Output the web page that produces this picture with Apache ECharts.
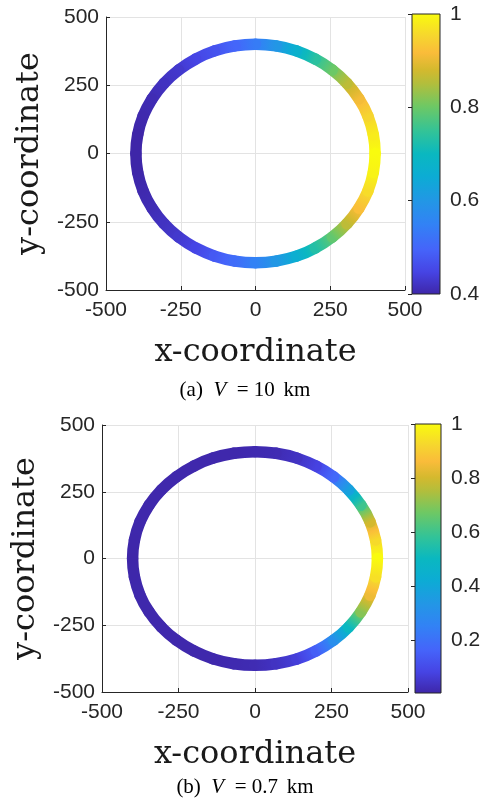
<!DOCTYPE html>
<html>
<head>
<meta charset="utf-8">
<script src="https://cdn.jsdelivr.net/npm/echarts@6.0.0/dist/echarts.min.js"></script>
<style>
html,body{margin:0;padding:0;background:#fff;}
#chart{width:490px;height:806px;}
</style>
</head>
<body>
<div id="chart"></div>
<script>
// Trajectory points (every 10 degrees around the ring)
const xCoord = [400,394,376,346,306,257,200,137,69,0,-69,-137,-200,-257,-306,-346,-376,-394,-400,-394,-376,-346,-306,-257,-200,-137,-69,0,69,137,200,257,306,346,376,394];
const yCoord = [0,69,137,200,257,306,346,376,394,400,394,376,346,306,257,200,137,69,0,-69,-137,-200,-257,-306,-346,-376,-394,-400,-394,-376,-346,-306,-257,-200,-137,-69];
// Colour value along the ring, (a) V = 10 km
const valuesA = [1.00,0.98,0.95,0.91,0.86,0.80,0.74,0.67,0.60,0.54,0.50,0.47,0.45,0.43,0.42,0.41,0.405,0.40,0.40,
                 0.40,0.405,0.41,0.42,0.43,0.45,0.48,0.51,0.55,0.60,0.66,0.73,0.79,0.86,0.92,0.96,0.99];
// Colour value along the ring, (b) V = 0.7 km
const valuesB = [1.00,0.93,0.80,0.60,0.38,0.18,0.08,0.04,0.02,0.015,0.01,0.01,0.01,0.01,0.01,0.01,0.01,0.008,0.005,
                 0.008,0.01,0.01,0.01,0.01,0.01,0.01,0.015,0.02,0.04,0.07,0.15,0.30,0.50,0.70,0.84,0.94];
// Axis ticks
const axisTicks = [-500,-250,0,250,500];
const cbarTicksA = [0.4,0.6,0.8,1];
const cbarTicksB = [0.2,0.4,0.6,0.8,1];
const captionA = '(a)\u2002{it|V}\u2002=\u200510\u2006 km';
const captionB = '(b)\u2002{it|V}\u2002=\u20050.7\u2006 km';

// parula-like colormap (styling)
const PARULA = [
  [0.00,[62,38,168]],[0.08,[70,68,228]],[0.16,[69,100,250]],[0.25,[50,130,245]],
  [0.33,[35,150,230]],[0.42,[12,172,212]],[0.50,[10,184,192]],[0.58,[50,195,152]],
  [0.67,[110,200,100]],[0.75,[178,190,60]],[0.80,[212,185,46]],[0.86,[250,188,58]],
  [0.92,[246,214,46]],[1.00,[249,251,14]]
];
function cmap(t){
  t = Math.max(0, Math.min(1, t));
  for (let i=1;i<PARULA.length;i++){
    if (t <= PARULA[i][0]){
      const a = PARULA[i-1], b = PARULA[i];
      const f = (t - a[0])/(b[0]-a[0]);
      const c = a[1].map((v,k)=>Math.round(v + (b[1][k]-v)*f));
      return 'rgb('+c.join(',')+')';
    }
  }
  return 'rgb(249,251,14)';
}

function segData(vals){
  const n = xCoord.length, out = [];
  for (let i=0;i<n;i++){
    const j = (i+1)%n;
    out.push([xCoord[i], yCoord[i], xCoord[j], yCoord[j], vals[i], vals[j]]);
  }
  return out;
}

const AX = '#262626';
const TICKFONT = {fontFamily:'Liberation Sans', fontSize:21, color:AX};

function ringSeries(vals, gi, lw){
  const vmin = Math.min.apply(null, vals), vmax = Math.max.apply(null, vals);
  return {
    type:'custom', xAxisIndex:gi, yAxisIndex:gi,
    data: segData(vals),
    encode:{x:[0,2], y:[1,3]},
    renderItem: function(params, api){
      const ax = api.value(0), ay = api.value(1), bx = api.value(2), by = api.value(3);
      // smooth arc between consecutive points (tangent-intersection control point)
      const mx = (ax+bx)/2, my = (ay+by)/2;
      const k = (ax*ax+ay*ay)/(mx*mx+my*my);
      const p1 = api.coord([ax, ay]);
      const p2 = api.coord([bx, by]);
      const cp = api.coord([mx*k, my*k]);
      const v1 = api.value(4), v2 = api.value(5);
      const stops = [];
      for (let s=0;s<=4;s++){
        const f = s/4, v = v1 + (v2-v1)*f;
        stops.push({offset:f, color:cmap((v-vmin)/(vmax-vmin))});
      }
      return {
        type:'bezierCurve',
        shape:{x1:p1[0], y1:p1[1], x2:p2[0], y2:p2[1], cpx1:cp[0], cpy1:cp[1]},
        style:{fill:null, stroke:new echarts.graphic.LinearGradient(p1[0],p1[1],p2[0],p2[1],stops,true), lineWidth:lw, lineCap:'round'}
      };
    }
  };
}

function cbarSeries(vals, gi){
  const vmin = Math.min.apply(null, vals), vmax = Math.max.apply(null, vals);
  const stops = PARULA.map(s=>({offset:s[0], color:'rgb('+s[1].join(',')+')'}));
  return {
    type:'custom', xAxisIndex:gi, yAxisIndex:gi,
    data:[[0, vmin, 1, vmax]],
    encode:{x:[0,2], y:[1,3]},
    renderItem: function(params, api){
      const p0 = api.coord([api.value(0), api.value(1)]);
      const p1 = api.coord([api.value(2), api.value(3)]);
      return {
        type:'rect',
        shape:{x:p0[0], y:p1[1], width:p1[0]-p0[0], height:p0[1]-p1[1]},
        style:{fill:new echarts.graphic.LinearGradient(0,1,0,0,stops,false), stroke:AX, lineWidth:1}
      };
    }
  };
}

function mainX(gi){
  return {
    gridIndex:gi, type:'value', min:-500, max:500, interval:250,
    axisLine:{show:true, onZero:false, lineStyle:{color:AX, width:1}},
    axisTick:{show:true, inside:true, length:4, lineStyle:{color:AX}},
    axisLabel:Object.assign({margin:10}, TICKFONT),
    splitLine:{show:true, lineStyle:{color:'#e3e3e3', width:1}},
    name:'x-coordinate', nameLocation:'middle', nameGap:47,
    nameTextStyle:{fontFamily:'DejaVu Serif', fontSize:32, color:'#1a1a1a'}
  };
}
function mainY(gi){
  return {
    gridIndex:gi, type:'value', min:-500, max:500, interval:250,
    axisLine:{show:true, onZero:false, lineStyle:{color:AX, width:1}},
    axisTick:{show:true, inside:true, length:4, lineStyle:{color:AX}},
    axisLabel:Object.assign({margin:7}, TICKFONT),
    splitLine:{show:true, lineStyle:{color:'#e3e3e3', width:1}},
    name:'y-coordinate', nameLocation:'middle', nameGap:57,
    nameTextStyle:{fontFamily:'DejaVu Serif', fontSize:32, color:'#1a1a1a'}
  };
}
function cbX(gi){
  return {gridIndex:gi, type:'value', min:0, max:1, show:false};
}
function cbY(gi, vals, ticks){
  return {
    gridIndex:gi, type:'value', position:'right',
    min:Math.min.apply(null, vals), max:Math.max.apply(null, vals),
    axisLine:{show:false},
    axisTick:{show:true, inside:true, length:4, customValues:ticks, lineStyle:{color:AX}},
    axisLabel:Object.assign({margin:10, customValues:ticks}, TICKFONT),
    splitLine:{show:false}
  };
}

const capStyle = {fontFamily:'Liberation Serif', fontSize:21, fontWeight:'normal', color:'#000',
  rich:{it:{fontFamily:'Liberation Serif', fontSize:21, fontStyle:'italic', color:'#000'}}};

const chart = echarts.init(document.getElementById('chart'), null, {renderer:'canvas'});
chart.setOption({
  backgroundColor:'#fff',
  animation:false,
  title:[
    {text:captionA, left:'center', top:380, padding:0, textStyle:capStyle},
    {text:captionB, left:'center', top:777, padding:0, textStyle:capStyle}
  ],
  grid:[
    {left:106, top:17, width:299, height:273},
    {left:412, top:14, width:28, height:280},
    {left:102, top:425, width:306, height:267},
    {left:415, top:424, width:26, height:269}
  ],
  xAxis:[mainX(0), cbX(1), mainX(2), cbX(3)],
  yAxis:[mainY(0), cbY(1, valuesA, cbarTicksA), mainY(2), cbY(3, valuesB, cbarTicksB)],
  series:[
    ringSeries(valuesA, 0, 11.5),
    cbarSeries(valuesA, 1),
    ringSeries(valuesB, 2, 11.5),
    cbarSeries(valuesB, 3)
  ]
});
</script>
</body>
</html>
